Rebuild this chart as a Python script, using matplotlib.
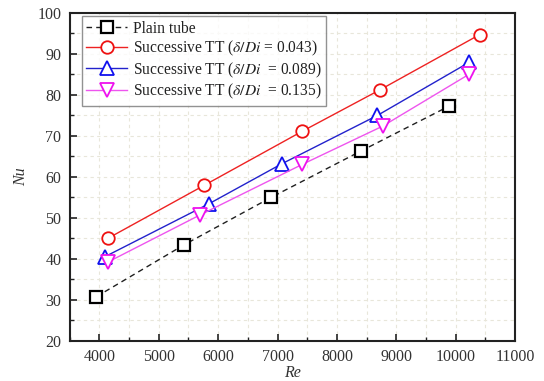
import matplotlib
matplotlib.use("Agg")
import matplotlib.pyplot as plt
from matplotlib.ticker import MultipleLocator

plt.rcParams["font.family"] = ["Liberation Serif", "DejaVu Serif"]
plt.rcParams["mathtext.fontset"] = "stix"

# data
plain_re = [3950, 5420, 6890, 8400, 9890]
plain_nu = [30.8, 43.4, 55.0, 66.3, 77.3]
tt043_re = [4140, 5770, 7410, 8730, 10400]
tt043_nu = [45.0, 58.0, 71.1, 81.3, 94.7]
tt089_re = [4100, 5850, 7070, 8680, 10230]
tt089_nu = [40.6, 53.5, 63.2, 75.0, 88.0]
tt135_re = [4150, 5690, 7420, 8770, 10230]
tt135_nu = [39.3, 50.7, 63.1, 72.4, 85.1]

labels = ["Plain tube",
          r"Successive TT ($\delta/Di$ = 0.043)",
          r"Successive TT ($\delta/Di$  = 0.089)",
          r"Successive TT ($\delta/Di$  = 0.135)"]

fig = plt.figure(figsize=(5.44, 3.81), dpi=100)
ax = fig.add_axes([0.128, 0.105, 0.819, 0.861])

ms = 9
ax.plot(plain_re, plain_nu, ls=(0, (4, 3)), color="#202020", lw=1.0, marker="s",
        ms=ms - 0.5, mfc="white", mec="black", mew=1.6, label=labels[0])
ax.plot(tt043_re, tt043_nu, ls="-", color="#ee2222", lw=1.0, marker="o",
        ms=ms, mfc="white", mec="#ee1111", mew=1.3, label=labels[1])
ax.plot(tt089_re, tt089_nu, ls="-", color="#2222cc", lw=1.0, marker="^",
        ms=ms + 0.5, mfc="white", mec="#1111ee", mew=1.3, label=labels[2])
ax.plot(tt135_re, tt135_nu, ls="-", color="#ee55ee", lw=1.0, marker="v",
        ms=ms + 0.5, mfc="white", mec="#ee11ee", mew=1.3, label=labels[3])

ax.set_xlim(3500, 11000)
ax.set_ylim(20, 100)
ax.xaxis.set_major_locator(MultipleLocator(1000))
ax.xaxis.set_minor_locator(MultipleLocator(500))
ax.yaxis.set_major_locator(MultipleLocator(10))
ax.yaxis.set_minor_locator(MultipleLocator(5))
ax.tick_params(which="both", direction="in", labelsize=11.5, color="#222222",
               labelcolor="#333333")
ax.tick_params(which="major", length=5, width=1.2, pad=6)
ax.tick_params(which="minor", length=3, width=1.0)
ax.grid(which="both", ls=(0, (3, 3)), color="#e8e6da", lw=0.8)
ax.set_axisbelow(True)
for s in ax.spines.values():
    s.set_linewidth(1.5)
    s.set_color("#222222")

ax.set_xlabel("Re", fontstyle="italic", fontsize=11.5, labelpad=0, color="#333333")
ax.set_ylabel("Nu", fontstyle="italic", fontsize=11.5, labelpad=6, color="#333333")

leg = ax.legend(loc="upper left", bbox_to_anchor=(0.02, 1.0), fontsize=11.2,
                frameon=True, fancybox=False, edgecolor="#777777",
                handlelength=2.6, handletextpad=0.4, labelspacing=0.14,
                borderpad=0.3, borderaxespad=0.2)
leg.get_frame().set_linewidth(1.0)
for t in leg.get_texts():
    t.set_color("#222222")

fig.savefig("out.png", dpi=100)
